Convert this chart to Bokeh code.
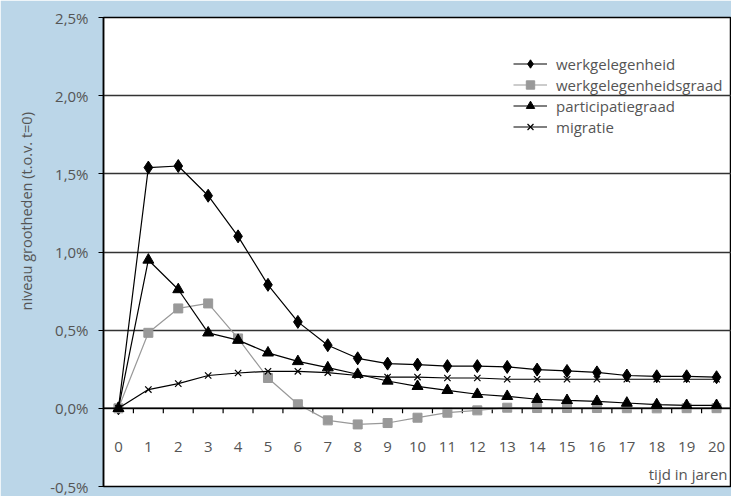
import math
from bokeh.plotting import figure
from bokeh.models import Range1d, FixedTicker, Legend, LegendItem, Label, Span, Title
from bokeh.core.properties import value
from bokeh.embed import file_html
from bokeh.resources import INLINE

# ---- data ----
jaren = list(range(0, 21))
werkgelegenheid = [0.0, 1.54, 1.55, 1.36, 1.10, 0.79, 0.553, 0.404, 0.32, 0.286, 0.28,
                   0.27, 0.27, 0.265, 0.248, 0.239, 0.23, 0.21, 0.205, 0.205, 0.199]
werkgelegenheidsgraad = [0.0, 0.483, 0.639, 0.671, 0.447, 0.194, 0.026, -0.077, -0.103, -0.094, -0.06,
                         -0.028, -0.013, 0.004, 0.002, 0.002, 0.002, 0.001, 0.0, 0.001, 0.001]
participatiegraad = [0.0, 0.949, 0.76, 0.483, 0.436, 0.355, 0.30, 0.26, 0.218, 0.175, 0.141,
                     0.115, 0.09, 0.077, 0.058, 0.051, 0.045, 0.034, 0.024, 0.019, 0.019]
migratie = [0.0, 0.12, 0.158, 0.21, 0.226, 0.237, 0.237, 0.229, 0.21, 0.2, 0.2,
            0.194, 0.194, 0.186, 0.186, 0.186, 0.186, 0.186, 0.186, 0.186, 0.186]

y_ticks = [-0.5, 0.0, 0.5, 1.0, 1.5, 2.0, 2.5]
y_tick_labels = ["-0,5%", "0,0%", "0,5%", "1,0%", "1,5%", "2,0%", "2,5%"]
x_tick_labels = [str(j) for j in jaren]
y_title = "niveau grootheden (t.o.v. t=0)"
x_title = "tijd in jaren"

FONT = "Open Sans"
FS = "15px"
TXT = "#555555"
BG = "#bbd6e8"
GREY = "#999999"

p = figure(width=731, height=496, output_backend="svg", toolbar_location=None,
           x_range=Range1d(-0.5, 20.5), y_range=Range1d(-0.5, 2.5),
           x_axis_type=None,
           min_border_left=103, min_border_right=0, min_border_top=17, min_border_bottom=10,
           background_fill_color="white", border_fill_color=BG,
           outline_line_color="black", outline_line_width=1.5)

# y axis
ya = p.yaxis[0]
ya.ticker = FixedTicker(ticks=y_ticks)
ya.major_label_overrides = {t: l for t, l in zip(y_ticks, y_tick_labels)}
ya.major_tick_in = 0
ya.major_tick_out = 5
ya.minor_tick_out = 0
ya.minor_tick_in = 0
ya.axis_line_color = "black"
ya.axis_line_width = 1.5
ya.major_tick_line_color = "black"
ya.major_tick_line_width = 1.2
ya.major_label_text_font = FONT
ya.major_label_text_font_size = FS
ya.major_label_text_color = TXT
ya.major_label_standoff = 10

p.add_layout(Title(text=y_title, align="left", offset=176, standoff=20,
                   vertical_align="top",
                   text_font=FONT, text_font_size="14.5px", text_color=TXT,
                   text_font_style="normal"), "left")

p.ygrid.ticker = FixedTicker(ticks=y_ticks)
p.ygrid.grid_line_color = "#333333"
p.ygrid.grid_line_width = 1.3
p.xgrid.visible = False

# zero line (x axis)
p.add_layout(Span(location=0, dimension="width", line_color="black", line_width=1.5))
tick_x = [j + 0.5 for j in jaren[:-1]]
p.segment(x0=tick_x, y0=[0] * len(tick_x), x1=tick_x, y1=[-0.032] * len(tick_x),
          line_color="black", line_width=1.2)
p.text(x=jaren, y=[-0.25] * len(jaren), text=x_tick_labels, text_align="center",
       text_baseline="middle", text_font=value(FONT), text_font_size=FS, text_color=TXT)
p.add_layout(Label(x=20.5, y=-0.42, x_offset=-4, text=x_title, text_align="right",
                   text_baseline="middle", text_font=FONT, text_font_size=FS, text_color=TXT))

# series
l1 = p.line(jaren, werkgelegenheid, line_color="black", line_width=1.2)
s1 = p.scatter(jaren, werkgelegenheid, marker="diamond", size=13, color="black")
l2 = p.line(jaren, werkgelegenheidsgraad, line_color=GREY, line_width=1.2)
s2 = p.scatter(jaren, werkgelegenheidsgraad, marker="square", size=9, color=GREY)
l3 = p.line(jaren, participatiegraad, line_color="black", line_width=1.2)
s3 = p.scatter(jaren, participatiegraad, marker="triangle", size=11, color="black")
l4 = p.line(jaren, migratie, line_color="black", line_width=1.2)
s4 = p.scatter(jaren, migratie, marker="x", size=9, line_color="black", line_width=1.2)

legend = Legend(items=[
    LegendItem(label="werkgelegenheid", renderers=[l1, s1]),
    LegendItem(label="werkgelegenheidsgraad", renderers=[l2, s2]),
    LegendItem(label="participatiegraad", renderers=[l3, s3]),
    LegendItem(label="migratie", renderers=[l4, s4]),
], location=(410, 349), padding=0, margin=0, spacing=0, glyph_width=34, glyph_height=21,
    label_height=21, label_standoff=9, border_line_alpha=0, background_fill_alpha=0,
    label_text_font=FONT, label_text_font_size=FS, label_text_color=TXT,
    label_text_baseline="middle")
p.add_layout(legend)

open("out.html", "w").write(file_html(p, INLINE))
